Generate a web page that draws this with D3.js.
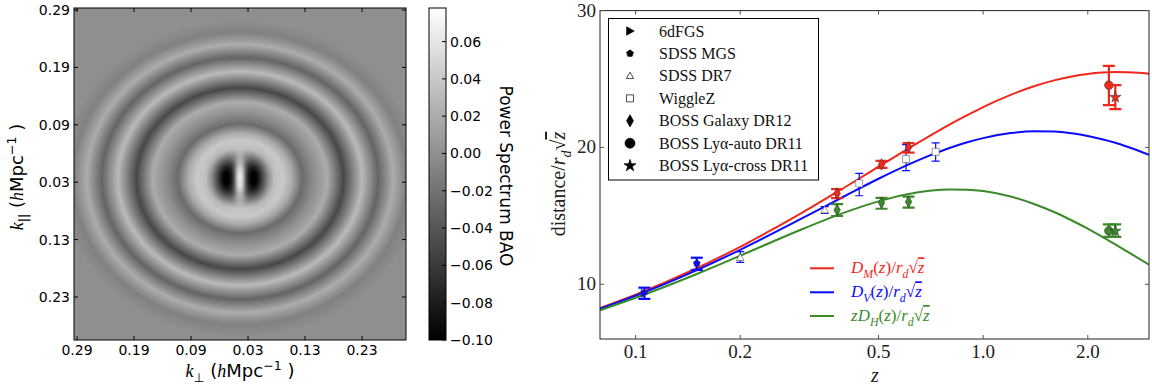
<!DOCTYPE html>
<html><head><meta charset="utf-8">
<script src="https://cdn.jsdelivr.net/npm/d3@7"></script>
<style>body{margin:0;background:#fff}svg{display:block}</style>
</head><body>
<svg id="c" width="1152" height="387"></svg>
<script>
// ---------------- DATA ----------------
// Left panel: heat-map axis ticks (positions in k, labels as printed)
const kxTickValues = [-0.29, -0.19, -0.09, 0.01, 0.11, 0.21];
const kyTickValues = [0.29, 0.19, 0.09, -0.01, -0.11, -0.21];
const kTickLabels  = ["0.29", "0.19", "0.09", "0.03", "0.13", "0.23"];
const cbarTicks    = [0.06, 0.04, 0.02, 0.00, -0.02, -0.04, -0.06, -0.08, -0.10];
// BAO ring profile (elliptical radius in k units)
const ringRadius = [0, 0.0263, 0.0386, 0.0526, 0.0667, 0.0789, 0.0947, 0.114, 0.1333, 0.1579, 0.186, 0.2105, 0.2333, 0.2544, 0.2772, 0.307];
const ringValue  = [-0.02, -0.02, 0.0, 0.035, 0.04, 0.02, -0.025, 0.0, 0.02, -0.05, 0.03, -0.03, 0.02, -0.01, 0.0, 0.0];
// central anisotropic feature: amplitude and separable profiles along k_perp and k_par (k units)
const centerAmp = 0.085;
const centerPerpK = [0, 0.0035, 0.007, 0.0105, 0.0158, 0.0228, 0.0298, 0.0386, 0.0474, 0.0561, 0.0632];
const centerPerpV = [1, 0.85, 0.35, -0.3, -0.8, -1, -0.9, -0.55, -0.2, -0.05, 0];
const centerParK  = [0, 0.0088, 0.0175, 0.0263, 0.0351, 0.0439, 0.0526, 0.0614];
const centerParV  = [1, 0.95, 0.8, 0.55, 0.3, 0.12, 0.03, 0];

// Right panel: model curves
const zCurve = [0.079, 0.1, 0.15, 0.2, 0.3, 0.4, 0.5, 0.6, 0.7, 0.8, 0.9, 1.0, 1.2, 1.4, 1.6, 1.8, 2.0, 2.2, 2.4, 2.6, 2.8, 3.0];
const vDM = [8.26, 9.24, 11.17, 12.74, 15.20, 17.09, 18.59, 19.82, 20.83, 21.67, 22.36, 22.95, 23.84, 24.47, 24.90, 25.19, 25.37, 25.47, 25.51, 25.50, 25.46, 25.39];
const vDV = [8.21, 9.16, 11.03, 12.52, 14.79, 16.45, 17.71, 18.67, 19.40, 19.96, 20.38, 20.68, 21.05, 21.18, 21.16, 21.03, 20.84, 20.60, 20.34, 20.05, 19.76, 19.46];
const vDH = [8.10, 9.01, 10.75, 12.09, 14.00, 15.25, 16.06, 16.56, 16.83, 16.93, 16.91, 16.81, 16.41, 15.87, 15.28, 14.66, 14.06, 13.47, 12.92, 12.39, 11.90, 11.44];

// Survey names (legend order)
const surveys = ["6dFGS", "SDSS MGS", "SDSS DR7", "WiggleZ", "BOSS Galaxy DR12", "BOSS Ly\u03b1-auto DR11", "BOSS Ly\u03b1-cross DR11"];
// D_V measurements
const dvZ   = [0.106, 0.15, 0.2, 0.35, 0.44, 0.6, 0.73];
const dvVal = [9.34, 11.53, 11.94, 15.42, 17.37, 19.15, 19.68];
const dvLo  = [8.93, 11.04, 11.6, 15.17, 16.47, 18.3, 19.0];
const dvHi  = [9.75, 11.94, 12.38, 15.67, 18.1, 20.2, 20.34];
const dvSrc = [0, 1, 2, 2, 3, 3, 3];
// D_M measurements
const dmZ   = [0.38, 0.51, 0.61, 2.30, 2.40];
const dmVal = [16.64, 18.76, 20.02, 24.55, 23.67];
const dmLo  = [16.3, 18.5, 19.62, 23.09, 22.8];
const dmHi  = [16.95, 19.02, 20.32, 25.96, 24.55];
const dmSrc = [4, 4, 4, 5, 6];
// z D_H measurements
const dhZ   = [0.38, 0.51, 0.61, 2.30, 2.40];
const dhVal = [15.42, 15.96, 16.03, 13.91, 13.89];
const dhLo  = [14.99, 15.52, 15.6, 13.47, 13.47];
const dhHi  = [15.86, 16.32, 16.4, 14.38, 14.38];
const dhSrc = [4, 4, 4, 5, 6];
const xTicks = [0.1, 0.2, 0.5, 1.0, 2.0];
const yTicks = [10, 20, 30];

// ---------------- DRAW ----------------
const svg = d3.select("#c");
const RED = "#f0281c", BLUE = "#0a0aff", GREEN = "#3a8a2a";

function mathText(g, parts, base) {
  let shift = 0;
  parts.forEach(p => {
    const target = p.sub ? base * 0.3 : p.sup ? -base * 0.4 : 0;
    const ts = g.append("tspan").text(p.t)
      .attr("dy", target - shift)
      .attr("font-size", (p.sub || p.sup) ? base * 0.7 : base);
    if (p.it) ts.attr("font-style", "italic");
    if (p.ff) ts.attr("font-family", p.ff);
    if (p.ol) ts.attr("text-decoration", "overline");
    shift = target;
  });
}

// ---- left: heat map ----
const hx = d3.scaleLinear().domain([-0.2953, 0.2871]).range([74, 406]);
const hy = d3.scaleLinear().domain([0.2935, -0.285]).range([8, 340]);
const gray = d3.scaleLinear().domain([-0.10, 0.078]).range(["#000000", "#ffffff"]).clamp(true);
const ring  = d3.scaleLinear().domain(ringRadius).range(ringValue).clamp(true);
const cPerp = d3.scaleLinear().domain(centerPerpK).range(centerPerpV).clamp(true);
const cPar  = d3.scaleLinear().domain(centerParK).range(centerParV).clamp(true);
const cx0 = hx.invert(240), cy0 = hy.invert(178.5), ell = 1.15;
const W = 332, H = 332;
const cv = document.createElement("canvas"); cv.width = W; cv.height = H;
const ctx = cv.getContext("2d");
const img = ctx.createImageData(W, H);
for (let j = 0; j < H; j++) {
  for (let i = 0; i < W; i++) {
    const kx = hx.invert(74 + i + 0.5) - cx0;
    const ky = hy.invert(8 + j + 0.5) - cy0;
    const r = Math.hypot(kx / ell, ky);
    const v = ring(r) + centerAmp * cPerp(Math.abs(kx)) * cPar(Math.abs(ky));
    const col = d3.rgb(gray(v));
    const o = 4 * (j * W + i);
    img.data[o] = col.r; img.data[o + 1] = col.g; img.data[o + 2] = col.b; img.data[o + 3] = 255;
  }
}
ctx.putImageData(img, 0, 0);
svg.append("image").attr("x", 74).attr("y", 8).attr("width", W).attr("height", H)
  .attr("href", cv.toDataURL());
svg.append("rect").attr("x", 74).attr("y", 8).attr("width", W).attr("height", H)
  .attr("fill", "none").attr("stroke", "#000").attr("stroke-width", 1);

const sansF = "DejaVu Sans";
const gxl = svg.append("g").attr("font-family", sansF).attr("font-size", 14);
kxTickValues.forEach((k, i) => {
  const px = hx(k);
  gxl.append("line").attr("x1", px).attr("x2", px).attr("y1", 340).attr("y2", 336).attr("stroke", "#000");
  gxl.append("line").attr("x1", px).attr("x2", px).attr("y1", 8).attr("y2", 12).attr("stroke", "#000");
  gxl.append("text").attr("x", px).attr("y", 355).attr("text-anchor", "middle").text(kTickLabels[i]);
});
kyTickValues.forEach((k, i) => {
  const py = hy(k);
  gxl.append("line").attr("x1", 74).attr("x2", 78).attr("y1", py).attr("y2", py).attr("stroke", "#000");
  gxl.append("line").attr("x1", 406).attr("x2", 402).attr("y1", py).attr("y2", py).attr("stroke", "#000");
  gxl.append("text").attr("x", 70).attr("y", py + 5).attr("text-anchor", "end").text(kTickLabels[i]);
});
const serifF = "Liberation Serif";
const xl = svg.append("text").attr("x", 240).attr("y", 377).attr("text-anchor", "middle")
  .attr("font-family", sansF).attr("font-size", 18);
mathText(xl, [{t: "k", it: 1, ff: serifF}, {t: "\u22a5", sub: 1}, {t: " (", ff: sansF}, {t: "h", it: 1, ff: serifF}, {t: "Mpc"}, {t: "\u22121", sup: 1}, {t: " )"}], 18);
const yl = svg.append("text").attr("transform", "translate(23,177) rotate(-90)").attr("text-anchor", "middle")
  .attr("font-family", sansF).attr("font-size", 18);
mathText(yl, [{t: "k", it: 1, ff: serifF}, {t: "||", sub: 1}, {t: " (", ff: sansF}, {t: "h", it: 1, ff: serifF}, {t: "Mpc"}, {t: "\u22121", sup: 1}, {t: " )"}], 18);

// ---- colorbar ----
const cby = d3.scaleLinear().domain([-0.10, 0.078]).range([340, 8]);
const grad = svg.append("defs").append("linearGradient").attr("id", "cbg")
  .attr("x1", 0).attr("x2", 0).attr("y1", 1).attr("y2", 0);
grad.append("stop").attr("offset", 0).attr("stop-color", gray(-0.10));
grad.append("stop").attr("offset", 1).attr("stop-color", gray(0.078));
svg.append("rect").attr("x", 429).attr("y", 8).attr("width", 17).attr("height", 332)
  .attr("fill", "url(#cbg)").attr("stroke", "#000").attr("stroke-width", 1);
const gcb = svg.append("g").attr("font-family", sansF).attr("font-size", 14);
cbarTicks.forEach(t => {
  const py = cby(t);
  gcb.append("line").attr("x1", 446).attr("x2", 442).attr("y1", py).attr("y2", py).attr("stroke", "#000");
  gcb.append("text").attr("x", 450).attr("y", py + 5).text(d3.format(".2f")(t).replace("-", "\u2212"));
});
svg.append("text").attr("transform", "translate(500,176) rotate(90)").attr("text-anchor", "middle")
  .attr("font-family", sansF).attr("font-size", 17).text("Power Spectrum BAO");

// ---- right: distance plot ----
const x = d3.scaleLog().domain([0.079, 3.0]).range([600, 1149]);
const y = d3.scaleLinear().domain([6, 30]).range([339, 10.6]);
svg.append("clipPath").attr("id", "pc").append("rect").attr("x", 600).attr("y", 10.6).attr("width", 549).attr("height", 328.4);
const plot = svg.append("g").attr("clip-path", "url(#pc)");
const line = d3.line().x(d => x(d[0])).y(d => y(d[1])).curve(d3.curveMonotoneX);
plot.append("path").attr("d", line(d3.zip(zCurve, vDM))).attr("fill", "none").attr("stroke", RED).attr("stroke-width", 2);
plot.append("path").attr("d", line(d3.zip(zCurve, vDV))).attr("fill", "none").attr("stroke", BLUE).attr("stroke-width", 2);
plot.append("path").attr("d", line(d3.zip(zCurve, vDH))).attr("fill", "none").attr("stroke", GREEN).attr("stroke-width", 2);

function markerPath(src, s) {
  switch (src) {
    case 0: return `M${-0.8*s},${-s}L${s},0L${-0.8*s},${s}Z`;
    case 1: { const p = d3.range(5).map(i => [s*Math.sin(i*2*Math.PI/5), -s*Math.cos(i*2*Math.PI/5)]); return "M" + p.join("L") + "Z"; }
    case 2: return `M0,${-s}L${0.95*s},${0.7*s}L${-0.95*s},${0.7*s}Z`;
    case 3: return `M${-s},${-s}H${s}V${s}H${-s}Z`;
    case 4: return `M0,${-1.6*s}L${0.9*s},0L0,${1.6*s}L${-0.9*s},0Z`;
    case 5: return d3.symbol(d3.symbolCircle, Math.PI * s * s)();
    case 6: return d3.symbol(d3.symbolStar, 2.2 * s * s)();
  }
}
const markerSize = [4, 3.6, 4, 3.5, 3.6, 4.3, 4.2];
const openMarker = [false, false, true, true, false, false, false];

function drawPoints(zs, vs, lo, hi, src, color) {
  zs.forEach((z, i) => {
    const s = src[i], px = x(z);
    const thin = openMarker[s];
    const cw = thin ? 4 : 6;
    const g = plot.append("g").attr("stroke", color).attr("stroke-width", thin ? 1.2 : 2.2);
    g.append("line").attr("x1", px).attr("x2", px).attr("y1", y(lo[i])).attr("y2", y(hi[i]));
    g.append("line").attr("x1", px - cw).attr("x2", px + cw).attr("y1", y(lo[i])).attr("y2", y(lo[i]));
    g.append("line").attr("x1", px - cw).attr("x2", px + cw).attr("y1", y(hi[i])).attr("y2", y(hi[i]));
    plot.append("path").attr("transform", `translate(${px},${y(vs[i])})`)
      .attr("d", markerPath(s, markerSize[s]))
      .attr("fill", thin ? "#fff" : color).attr("stroke", thin ? "#555" : "#333").attr("stroke-width", 0.6);
  });
}
drawPoints(dvZ, dvVal, dvLo, dvHi, dvSrc, BLUE);
drawPoints(dmZ, dmVal, dmLo, dmHi, dmSrc, RED);
drawPoints(dhZ, dhVal, dhLo, dhHi, dhSrc, GREEN);

svg.append("rect").attr("x", 600).attr("y", 10.6).attr("width", 549).attr("height", 328.4)
  .attr("fill", "none").attr("stroke", "#222").attr("stroke-width", 1);
const gax = svg.append("g").attr("font-family", serifF).attr("font-size", 19).attr("fill", "#222");
xTicks.forEach(t => {
  const px = x(t);
  gax.append("line").attr("x1", px).attr("x2", px).attr("y1", 339).attr("y2", 335).attr("stroke", "#555");
  gax.append("line").attr("x1", px).attr("x2", px).attr("y1", 10.6).attr("y2", 14.6).attr("stroke", "#555");
  gax.append("text").attr("x", px).attr("y", 358).attr("text-anchor", "middle").text(d3.format(".1f")(t));
});
yTicks.forEach(t => {
  const py = y(t);
  gax.append("line").attr("x1", 600).attr("x2", 604).attr("y1", py).attr("y2", py).attr("stroke", "#555");
  gax.append("line").attr("x1", 1149).attr("x2", 1145).attr("y1", py).attr("y2", py).attr("stroke", "#555");
  gax.append("text").attr("x", 596).attr("y", py + 6).attr("text-anchor", "end").text(t);
});
svg.append("text").attr("x", 875).attr("y", 382).attr("text-anchor", "middle")
  .attr("font-family", serifF).attr("font-size", 20).attr("font-style", "italic").attr("fill", "#222").text("z");
const ylab = svg.append("text").attr("transform", "translate(565,184) rotate(-90)").attr("text-anchor", "middle")
  .attr("font-family", serifF).attr("font-size", 20).attr("fill", "#222");
mathText(ylab, [{t: "distance/"}, {t: "r", it: 1}, {t: "d", it: 1, sub: 1}, {t: "\u221a"}, {t: "z", it: 1, ol: 1}], 20);

const lg = svg.append("g");
lg.append("rect").attr("x", 608.5).attr("y", 18.5).attr("width", 210).attr("height", 161.5)
  .attr("fill", "#fff").attr("stroke", "#000").attr("stroke-width", 1);
const legY = d3.scaleLinear().domain([0, 6]).range([31, 165.7]);
const legSize = [4.2, 3.6, 3.8, 3.5, 3.8, 5, 4.5];
surveys.forEach((s, i) => {
  lg.append("path").attr("transform", `translate(630,${legY(i)})`).attr("d", markerPath(i, legSize[i]))
    .attr("fill", openMarker[i] ? "#fff" : "#000").attr("stroke", "#000").attr("stroke-width", 0.7);
  lg.append("text").attr("x", 659).attr("y", legY(i) + 5.5).attr("font-family", serifF).attr("font-size", 16)
    .attr("fill", "#111").text(s);
});
const lineLeg = [
  {c: RED, p: [{t: "D", it: 1}, {t: "M", it: 1, sub: 1}, {t: "("}, {t: "z", it: 1}, {t: ")/"}, {t: "r", it: 1}, {t: "d", it: 1, sub: 1}, {t: "\u221a"}, {t: "z", it: 1, ol: 1}]},
  {c: BLUE, p: [{t: "D", it: 1}, {t: "V", it: 1, sub: 1}, {t: "("}, {t: "z", it: 1}, {t: ")/"}, {t: "r", it: 1}, {t: "d", it: 1, sub: 1}, {t: "\u221a"}, {t: "z", it: 1, ol: 1}]},
  {c: GREEN, p: [{t: "z", it: 1}, {t: "D", it: 1}, {t: "H", it: 1, sub: 1}, {t: "("}, {t: "z", it: 1}, {t: ")/"}, {t: "r", it: 1}, {t: "d", it: 1, sub: 1}, {t: "\u221a"}, {t: "z", it: 1, ol: 1}]}
];
const lineLegY = [268.3, 292.3, 316];
lineLeg.forEach((d, i) => {
  svg.append("line").attr("x1", 810).attr("x2", 834).attr("y1", lineLegY[i]).attr("y2", lineLegY[i])
    .attr("stroke", d.c).attr("stroke-width", 2);
  const t = svg.append("text").attr("x", 851).attr("y", lineLegY[i] + 5).attr("font-family", serifF)
    .attr("font-size", 17).attr("fill", d.c);
  mathText(t, d.p, 17);
});
</script>
</body></html>
